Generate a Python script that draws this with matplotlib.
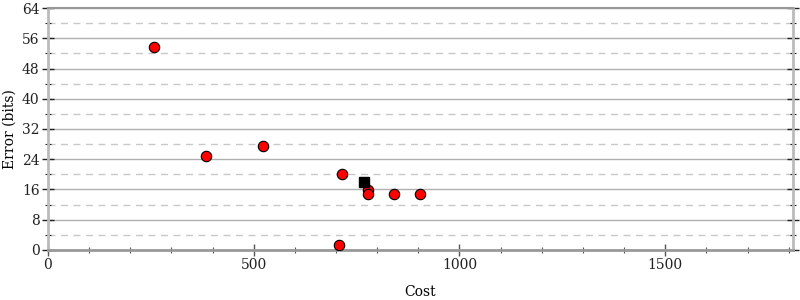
import numpy as np
import matplotlib.pyplot as plt
from matplotlib.ticker import MultipleLocator

# data
costs = [257, 383, 522, 714, 706, 777, 777, 842, 905]
errors = [53.7, 24.9, 27.5, 20.1, 1.3, 15.9, 14.8, 14.8, 14.8]
best_cost = [767]
best_error = [18.0]

plt.rcParams['font.family'] = 'DejaVu Serif'
plt.rcParams['font.size'] = 10

fig = plt.figure(figsize=(8, 3), dpi=100)
ax = fig.add_axes([0.06, 0.1667, 0.931, 0.8066])

ax.set_xlim(0, 1810)
ax.set_ylim(0, 64)
ax.xaxis.set_major_locator(MultipleLocator(500))
ax.xaxis.set_minor_locator(MultipleLocator(100))
ax.yaxis.set_major_locator(MultipleLocator(8))
ax.yaxis.set_minor_locator(MultipleLocator(4))

ax.grid(True, which='major', axis='y', color='#b0b0b0', lw=1, ls='-')
ax.grid(True, which='minor', axis='y', color='#c8c8c8', lw=1, ls=(0, (5, 4)))
ax.set_axisbelow(True)

for s in ['left', 'right']:
    ax.spines[s].set_color('#bbbbbb')
    ax.spines[s].set_linewidth(2)
ax.spines['bottom'].set_color('#999999')
ax.spines['bottom'].set_linewidth(2)
ax.spines['top'].set_color('#999999')
ax.spines['top'].set_linewidth(1.5)

ax.tick_params(which='both', direction='inout', top=False, right=True, colors='#222222')
ax.tick_params(which='major', length=8, width=1, pad=2)
ax.tick_params(which='minor', length=5, width=0.8)
ax.tick_params(axis='x', which='both', colors='#555555', labelcolor='#222222')

ax.plot(costs, errors, 'o', color='red', mec='black', mew=0.8, ms=7.5, zorder=3)
ax.plot(best_cost, best_error, 's', color='black', ms=7.5, zorder=4)

ax.set_xlabel('Cost', labelpad=9)
ax.set_ylabel('Error (bits)', labelpad=4)

fig.savefig('out.png')
